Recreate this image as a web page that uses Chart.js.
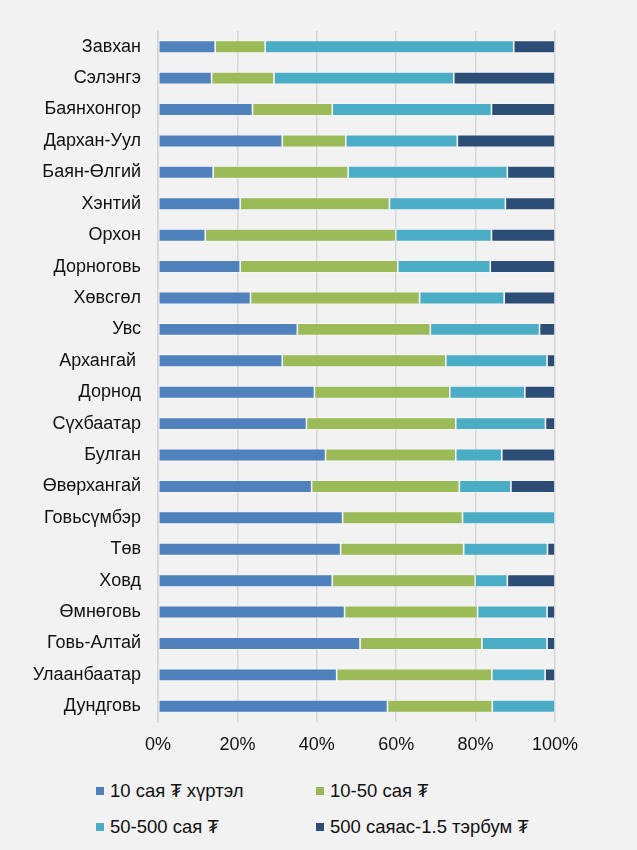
<!DOCTYPE html>
<html>
<head>
<meta charset="utf-8">
<script src="https://cdn.jsdelivr.net/npm/chart.js@4/dist/chart.umd.min.js"></script>
<style>
  html, body { margin: 0; padding: 0; background: #f2f2f2; }
  body { width: 637px; height: 850px; position: relative; overflow: hidden; font-family: "Liberation Sans", Arial, sans-serif; }
  #wrap { position: absolute; left: 0; top: 0; width: 637px; height: 765px; }
  .leg { position: absolute; font-size: 18.5px; color: #111; white-space: nowrap; line-height: 20px; }
  .leg i { position: absolute; left: -14px; top: 6px; width: 8px; height: 8px; display: block; }
</style>
</head>
<body>
<div id="wrap"><canvas id="c"></canvas></div>
<div id="legend"></div>
<script>
const categories = ["Завхан","Сэлэнгэ","Баянхонгор","Дархан-Уул","Баян-Өлгий","Хэнтий","Орхон","Дорноговь","Хөвсгөл","Увс","Архангай ","Дорнод","Сүхбаатар","Булган","Өвөрхангай","Говьсүмбэр","Төв","Ховд","Өмнөговь","Говь-Алтай","Улаанбаатар","Дундговь"];
const seriesNames = ["10 сая ₮ хүртэл","10-50 сая ₮","50-500 сая ₮","500 саяас-1.5 тэрбум ₮"];
const upTo10 =    [14.4,13.5,23.8,31.3,13.9,20.7,11.9,20.7,23.3,35.1,31.3,39.4,37.4,42.2,38.7,46.5,46.0,43.9,47.0,50.9,45.0,57.8];
const from10to50 =[12.6,15.7,20.1,16.0,34.0,37.6,48.0,39.7,42.6,33.5,41.2,34.1,37.6,32.8,37.2,30.2,31.0,36.0,33.5,30.7,39.1,26.4];
const from50to500=[62.6,45.3,40.1,28.1,40.1,29.2,24.1,23.3,21.3,27.5,25.5,18.9,22.6,11.6,13.0,23.3,21.1, 8.1,17.5,16.4,13.4,15.8];
const from500 =   [10.4,25.5,16.0,24.6,12.0,12.5,16.0,16.3,12.8, 3.9, 2.0, 7.6, 2.4,13.4,11.1, 0.0, 1.9,12.0, 2.0, 2.0, 2.5, 0.0];
const tickLabels = [0,20,40,60,80,100];
const colors = ["#4F81BD","#9BBB59","#4BACC6","#2C4D75"];

const seriesValues = [upTo10, from10to50, from50to500, from500];
const datasets = seriesValues.map((vals, i) => ({
  label: seriesNames[i],
  data: vals,
  backgroundColor: colors[i],
  borderColor: "rgba(255,255,255,0.45)",
  borderWidth: 0.8,
  borderSkipped: false,
  barPercentage: 0.5,
  categoryPercentage: 0.8
}));

const chart = new Chart(document.getElementById("c"), {
  type: "bar",
  data: { labels: categories, datasets },
  options: {
    indexAxis: "y",
    responsive: true,
    maintainAspectRatio: false,
    animation: false,
    layout: { padding: { top: 31, right: 82, left: 0, bottom: 0 } },
    plugins: { legend: { display: false }, tooltip: { enabled: false } },
    scales: {
      x: {
        stacked: true, min: 0, max: 100,
        afterBuildTicks: s => { s.ticks = tickLabels.map(v => ({ value: v })); },
        afterFit: s => { s.height = 43; },
        ticks: { callback: v => v + "%", color: "#111", padding: 12, font: { family: "'Liberation Sans', Arial", size: 18 }, maxRotation: 0 },
        grid: { color: "#d6d6d6", lineWidth: 1.5, drawTicks: false },
        border: { display: false }
      },
      y: {
        stacked: true,
        afterFit: s => { s.width = 158; },
        ticks: { color: "#111", padding: 17, font: { family: "'Liberation Sans', Arial", size: 18 } },
        grid: { display: false, drawTicks: false },
        border: { display: true, color: "#d6d6d6", width: 1.5 }
      }
    }
  }
});

// HTML legend built from the chart datasets
const legPos = [[110, 781], [330, 781], [110, 817], [330, 817]];
const legend = document.getElementById("legend");
chart.data.datasets.forEach((ds, i) => {
  const d = document.createElement("div");
  d.className = "leg";
  d.style.left = legPos[i][0] + "px";
  d.style.top = legPos[i][1] + "px";
  const box = document.createElement("i");
  box.style.background = ds.backgroundColor;
  d.appendChild(box);
  d.appendChild(document.createTextNode(ds.label));
  legend.appendChild(d);
});
</script>
</body>
</html>
